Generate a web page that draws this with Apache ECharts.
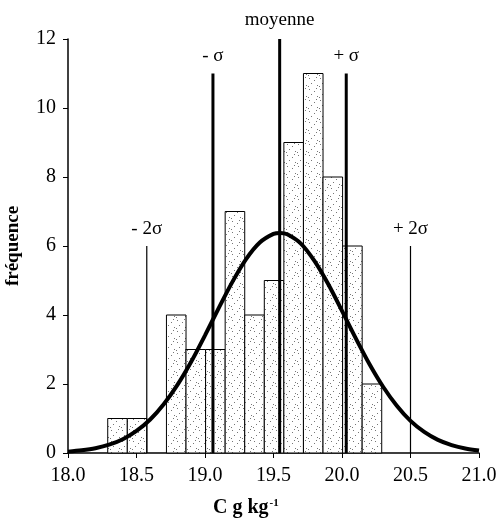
<!DOCTYPE html>
<html><head><meta charset="utf-8">
<script src="https://cdn.jsdelivr.net/npm/echarts@6/dist/echarts.min.js"></script>
<style>html,body{margin:0;padding:0;background:#fff}#c{width:499px;height:521px}</style>
</head><body><div id="c"></div>
<script>
// ---- data ----
const binStart = 18.29;
const binWidth = 2 / 14;
const counts = [1, 1, 0, 4, 3, 3, 7, 4, 5, 9, 11, 8, 6, 2];
const curveX = [18.0, 18.1, 18.2, 18.3, 18.4, 18.5, 18.6, 18.7, 18.8, 18.9, 19.0, 19.1, 19.2, 19.3, 19.4, 19.5, 19.55,
                19.6, 19.7, 19.8, 19.9, 20.0, 20.1, 20.2, 20.3, 20.4, 20.5, 20.6, 20.7, 20.8, 20.9, 21.0];
const curveY = [0.04, 0.08, 0.14, 0.24, 0.40, 0.64, 0.97, 1.42, 1.98, 2.65, 3.41, 4.20, 4.96, 5.62, 6.10, 6.35, 6.38,
                6.34, 6.07, 5.56, 4.89, 4.12, 3.33, 2.58, 1.92, 1.37, 0.93, 0.61, 0.38, 0.23, 0.13, 0.07];
const refNames = ['- 2σ', '- σ', 'moyenne', '+ σ', '+ 2σ'];
const refX = [18.575, 19.058, 19.545, 20.031, 20.5];
const refTop = [6, 11, 12, 11, 6];

// ---- styles ----
const serif = '"Liberation Serif","Times New Roman",serif';
const pc = document.createElement('canvas');
pc.width = 11; pc.height = 11;
const pctx = pc.getContext('2d');
pctx.fillStyle = '#fff'; pctx.fillRect(0, 0, 11, 11);
pctx.fillStyle = '#777';
[[1, 1], [6, 3], [3, 6], [9, 8], [0, 9], [8, 0]].forEach(p => pctx.fillRect(p[0], p[1], 1, 1));
const pattern = { image: pc, repeat: 'repeat' };

const histData = counts.map((c, i) => [binStart + i * binWidth, binStart + (i + 1) * binWidth, c]);
const curveData = curveX.map((x, i) => [x, curveY[i]]);

const refSeries = refX.map((x, i) => {
  const thick = (i === 1 || i === 2 || i === 3);
  return {
    type: 'line', z: 3,
    data: [
      { value: [x, 0] },
      { value: [x, refTop[i]], label: { show: true } }
    ],
    symbol: 'circle', symbolSize: 1,
    itemStyle: { color: 'rgba(0,0,0,0)' },
    lineStyle: { color: '#000', width: thick ? 3 : 1.2 },
    label: {
      show: false, position: 'top', distance: i === 2 ? 9 : 7,
      formatter: refNames[i], color: '#000', fontFamily: serif, fontSize: 19
    },
    silent: true, animation: false
  };
});

const chart = echarts.init(document.getElementById('c'));
chart.setOption({
  animation: false,
  backgroundColor: '#fff',
  grid: { left: 68, right: 20, top: 39, bottom: 68, containLabel: false, outerBoundsMode: 'none' },
  xAxis: {
    type: 'value', min: 18, max: 21, interval: 0.5,
    axisLine: { show: true, lineStyle: { color: '#000', width: 1.5 } },
    axisTick: { show: true, length: 5, lineStyle: { color: '#000' } },
    splitLine: { show: false },
    axisLabel: { formatter: v => v.toFixed(1), color: '#000', fontFamily: serif, fontSize: 20, margin: 13 }
  },
  yAxis: {
    type: 'value', min: 0, max: 12, interval: 2,
    axisLine: { show: true, lineStyle: { color: '#000', width: 1.5 } },
    axisTick: { show: true, length: 5, lineStyle: { color: '#000' } },
    splitLine: { show: false },
    axisLabel: { color: '#000', fontFamily: serif, fontSize: 20, margin: 12 },
    name: 'fréquence', nameLocation: 'middle', nameGap: 45,
    nameTextStyle: { color: '#000', fontFamily: serif, fontSize: 19, fontWeight: 'bold' }
  },
  graphic: [{
    type: 'text', left: 213, top: 498,
    style: {
      text: '{a|C g kg}{b|-1}',
      rich: {
        a: { fontFamily: serif, fontSize: 20, fontWeight: 'bold', fill: '#000' },
        b: { fontFamily: serif, fontSize: 11, fontWeight: 'bold', fill: '#000', verticalAlign: 'top', padding: [0, 0, 8, 1] }
      }
    }
  }],
  series: [
    {
      type: 'custom', z: 2,
      data: histData,
      encode: { x: [0, 1], y: 2 },
      renderItem: (params, api) => {
        const v = api.value(2);
        if (!v) return null;
        const p0 = api.coord([api.value(0), v]);
        const p1 = api.coord([api.value(1), 0]);
        return {
          type: 'rect',
          shape: { x: p0[0], y: p0[1], width: p1[0] - p0[0], height: p1[1] - p0[1] },
          style: { fill: pattern, stroke: '#000', lineWidth: 1 }
        };
      },
      silent: true
    },
    ...refSeries,
    {
      type: 'line', z: 4, data: curveData, smooth: 0.3, symbol: 'none',
      lineStyle: { color: '#000', width: 4 }, silent: true
    }
  ]
});
</script></body></html>
